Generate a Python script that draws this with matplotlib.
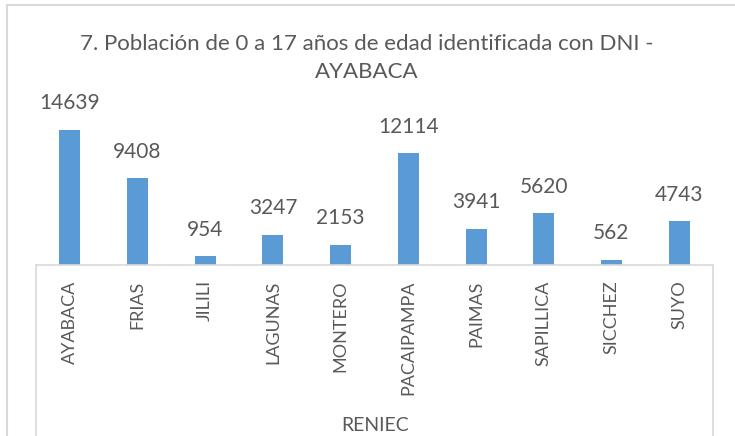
import matplotlib.pyplot as plt
from matplotlib.lines import Line2D

plt.rcParams["font.family"] = ["Lato", "DejaVu Sans"]

categories = ["AYABACA", "FRIAS", "JILILI", "LAGUNAS", "MONTERO",
              "PACAIPAMPA", "PAIMAS", "SAPILLICA", "SICCHEZ", "SUYO"]
values = [14639, 9408, 954, 3247, 2153, 12114, 3941, 5620, 562, 4743]
title = "7. Población de 0 a 17 años de edad identificada con DNI -\nAYABACA"
group_label = "RENIEC"

W, H = 735, 436
BLUE = "#5B9BD5"
TEXT = "#595959"
LINE = "#D9D9D9"

fig = plt.figure(figsize=(W / 100, H / 100), dpi=100)


def fx(px):
    return px / W


def fy(py):
    return 1 - py / H


ax_left, ax_right = 36, 713
base_y, top_y = 265, 117.5
ax = fig.add_axes([fx(ax_left), fy(base_y), fx(ax_right - ax_left), (base_y - top_y) / H])
ax.bar(range(len(values)), values, width=0.31, color=BLUE)
ax.set_xlim(-0.5, len(values) - 0.5)
ax.set_ylim(0, 16000)
for i, v in enumerate(values):
    ax.annotate(str(v), (i, v), xytext=(0, 12), textcoords="offset points",
                ha="center", va="bottom", fontsize=15, color=TEXT)

ax.set_xticks(range(len(categories)))
ax.set_xticklabels(categories, rotation=90, fontsize=13, color=TEXT)
ax.tick_params(axis="x", length=0, pad=11)
ax.set_yticks([])
for s in ["top", "left", "right"]:
    ax.spines[s].set_visible(False)
ax.spines["bottom"].set_color(LINE)
ax.spines["bottom"].set_linewidth(1.2)

# category box side lines and chart border
for x in (ax_left, ax_right):
    fig.add_artist(Line2D([fx(x), fx(x)], [fy(base_y), 0], color=LINE, lw=1.2))
fig.add_artist(Line2D([fx(7), fx(7)], [fy(5), 0], color=LINE, lw=1.5))
fig.add_artist(Line2D([fx(7), 1], [fy(5), fy(5)], color=LINE, lw=1.5))

fig.text(fx(367), fy(58), title, ha="center", va="center", fontsize=16,
         color=TEXT, linespacing=1.45)
fig.text(fx(375), fy(425), group_label, ha="center", va="center",
         fontsize=14, color=TEXT)

fig.savefig("out.png", dpi=100)
